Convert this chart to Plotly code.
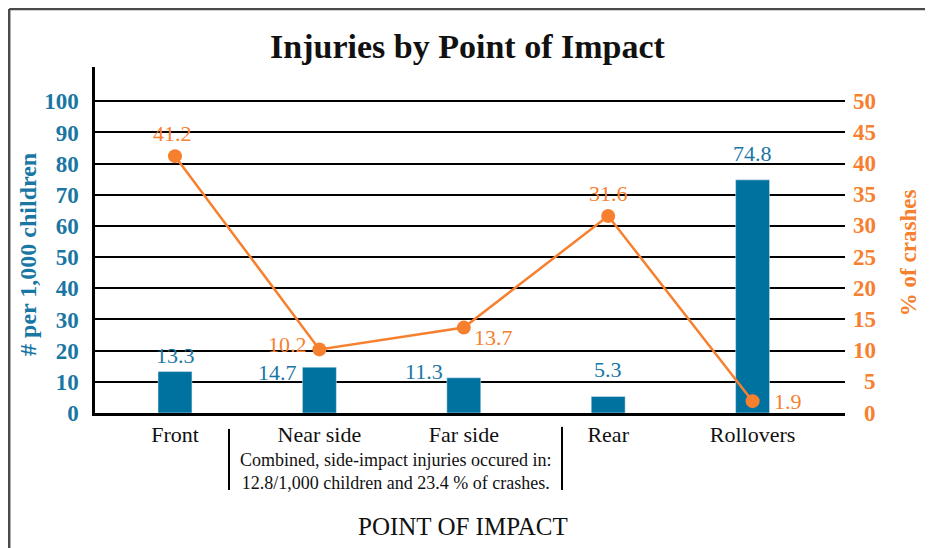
import plotly.graph_objects as go

# données
categories = ["Front", "Near side", "Far side", "Rear", "Rollovers"]
per_1000 = [13.3, 14.7, 11.3, 5.3, 74.8]
pct_crashes = [41.2, 10.2, 13.7, 31.6, 1.9]
left_ticks = list(range(0, 101, 10))
right_ticks = list(range(0, 51, 5))
note_lines = ["Combined, side-impact injuries occured in:",
              "12.8/1,000 children and 23.4 % of crashes."]

BLUE = "#0072a0"
BLUE_TXT = "#1a76a3"
ORANGE = "#f7802f"
FONT = "Liberation Serif"

# décalages des étiquettes (xshift, yshift, xanchor, yanchor)
bar_lbl = [(0, 2, "center", "bottom"), (-20, -5, "right", "middle"),
           (-19, 6, "right", "middle"), (0, 12, "center", "bottom"),
           (0, 12, "center", "bottom")]
line_lbl = [(-3, 8, "center", "bottom"), (-10, 5, "right", "middle"),
            (8, -10, "left", "middle"), (0, 8, "center", "bottom"),
            (19, 0, "left", "middle")]

fig = go.Figure()
fig.add_trace(go.Bar(x=categories, y=per_1000, marker_color=BLUE, width=0.235,
                     yaxis="y"))
fig.add_trace(go.Scatter(x=categories, y=pct_crashes, mode="lines+markers",
                         line=dict(color=ORANGE, width=2.5),
                         marker=dict(color=ORANGE, size=14), yaxis="y2"))

ann = []
for c, v, (dx, dy, xa, ya) in zip(categories, per_1000, bar_lbl):
    ann.append(dict(x=c, y=v, xref="x", yref="y", text=f"{v}", showarrow=False,
                    xshift=dx, yshift=dy, xanchor=xa, yanchor=ya,
                    font=dict(family=FONT, size=22, color=BLUE_TXT)))
for c, v, (dx, dy, xa, ya) in zip(categories, pct_crashes, line_lbl):
    ann.append(dict(x=c, y=v, xref="x", yref="y2", text=f"{v}", showarrow=False,
                    xshift=dx, yshift=dy, xanchor=xa, yanchor=ya,
                    font=dict(family=FONT, size=22, color=ORANGE)))

# graduations de droite, alignées à droite comme l'original
for t in right_ticks:
    ann.append(dict(x=1, y=t, xref="paper", yref="y2", text=f"<b>{t}</b>",
                    showarrow=False, xanchor="right", yanchor="middle",
                    xshift=33, font=dict(family=FONT, size=23, color=ORANGE)))


def paper_text(x, y, text, size, color, angle=0):
    return dict(x=x, y=y, xref="paper", yref="paper", text=text, showarrow=False,
                xanchor="center", yanchor="middle", textangle=angle,
                font=dict(family=FONT, size=size, color=color))


# titres d'axes
ann.append(paper_text(-0.0893, 0.457, "<b># per 1,000 children</b>", 24,
                      BLUE_TXT, -90))
ann.append(paper_text(1.084, 0.462, "<b>% of crashes</b>", 23, ORANGE, -90))
ann.append(paper_text(0.4907, -0.329, "POINT OF IMPACT", 25, "#111"))
ann.append(paper_text(0.401, -0.1705, "<br>".join(note_lines), 18, "#111"))

shapes = [
    dict(type="line", xref="paper", yref="paper", x0=0.1787, x1=0.1787,
         y0=-0.046, y1=-0.2225, line=dict(color="black", width=2)),
    dict(type="line", xref="paper", yref="paper", x0=0.6227, x1=0.6227,
         y0=-0.040, y1=-0.2225, line=dict(color="black", width=2)),
    # cadre
    dict(type="line", xref="paper", yref="paper", x0=-0.1144, x1=1.2,
         y0=1.1676, y1=1.1676, line=dict(color="#4a4a4a", width=2.5)),
    dict(type="line", xref="paper", yref="paper", x0=-0.1144, x1=-0.1144,
         y0=1.1676, y1=-0.5, line=dict(color="#4a4a4a", width=2.5)),
]

fig.update_layout(
    width=933, height=548,
    margin=dict(l=87, r=96, t=59, b=143),
    paper_bgcolor="white", plot_bgcolor="white",
    showlegend=False,
    title=dict(text="<b>Injuries by Point of Impact</b>", x=0.4925, y=0.93,
               xanchor="center", yanchor="middle",
               font=dict(family=FONT, size=34, color="#111")),
    xaxis=dict(range=[-0.554, 4.64], showgrid=False, showline=True,
               linecolor="black", linewidth=3, ticks="", automargin=False,
               tickfont=dict(family=FONT, size=22, color="#111")),
    yaxis=dict(range=[0, 111], tickvals=left_ticks, showgrid=True,
               gridcolor="black", gridwidth=2, showline=True, linecolor="black",
               linewidth=2.5, zeroline=False, ticks="", ticklabelstandoff=9,
               automargin=False,
               tickfont=dict(family=FONT, size=23, color=BLUE_TXT, weight="bold")),
    yaxis2=dict(range=[0, 55.5], tickvals=right_ticks, overlaying="y",
                side="right", showgrid=False, zeroline=False, showline=False,
                showticklabels=False, ticks="", automargin=False),
    annotations=ann,
    shapes=shapes,
)

fig.write_html("out.html")
